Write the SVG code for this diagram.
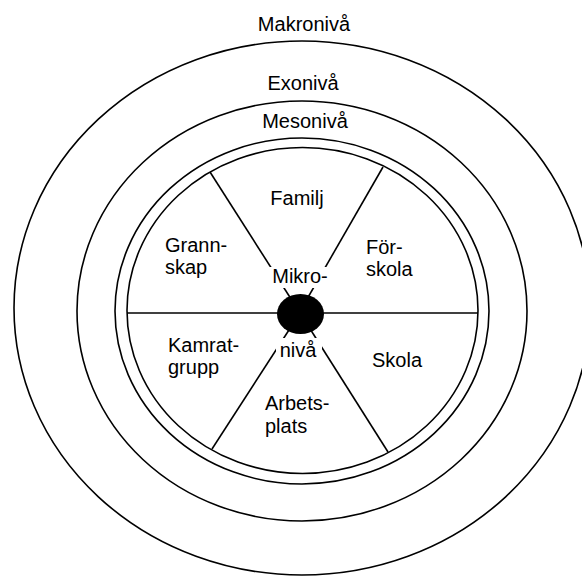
<svg xmlns="http://www.w3.org/2000/svg" width="582" height="576" viewBox="0 0 582 576">
<style>
.ring{fill:none;stroke:#000;stroke-width:1.6}
.ln{stroke:#000;stroke-width:1.6;fill:none}
text{font-family:"Liberation Sans",Arial,sans-serif;font-size:20px;fill:#000}
.c{text-anchor:middle}
</style>
<rect width="582" height="576" fill="#fff"/>
<g id="makro"><ellipse class="ring" cx="302" cy="308" rx="288" ry="267"/><text class="c" x="304" y="31">Makronivå</text></g>
<g id="exo"><ellipse class="ring" cx="302" cy="311" rx="225" ry="210"/><text class="c" x="303" y="90">Exonivå</text></g>
<g id="meso"><ellipse class="ring" cx="302" cy="311" rx="187" ry="173"/><text class="c" x="305" y="128">Mesonivå</text></g>
<g id="connectors">
<ellipse class="ring" cx="302.5" cy="310.5" rx="175.5" ry="163"/>
<line class="ln" x1="127" y1="313" x2="478" y2="313"/>
<line class="ln" x1="210" y1="172" x2="300" y2="313"/>
<line class="ln" x1="383" y1="167" x2="299" y2="313"/>
<line class="ln" x1="212" y1="449" x2="300" y2="313"/>
<line class="ln" x1="388" y1="452" x2="300" y2="313"/>
</g>
<g id="familj"><text class="c" x="297" y="205">Familj</text></g>
<g id="grannskap"><text x="165" y="252">Grann-</text><text x="165" y="274">skap</text></g>
<g id="forskola"><text x="366" y="254">För-</text><text x="366" y="276">skola</text></g>
<g id="kamratgrupp"><text x="168" y="352">Kamrat-</text><text x="168" y="374">grupp</text></g>
<g id="skola"><text x="372" y="367">Skola</text></g>
<g id="arbetsplats"><text x="265" y="410">Arbets-</text><text x="265" y="433">plats</text></g>
<g id="mikro">
<rect x="268" y="267" width="64" height="21" fill="#fff"/>
<rect x="276" y="338" width="46" height="22" fill="#fff"/>
<ellipse cx="300.5" cy="314" rx="23.5" ry="20" fill="#000"/>
<text class="c" x="300" y="283">Mikro-</text>
<text class="c" x="298" y="357">nivå</text>
</g>
</svg>
